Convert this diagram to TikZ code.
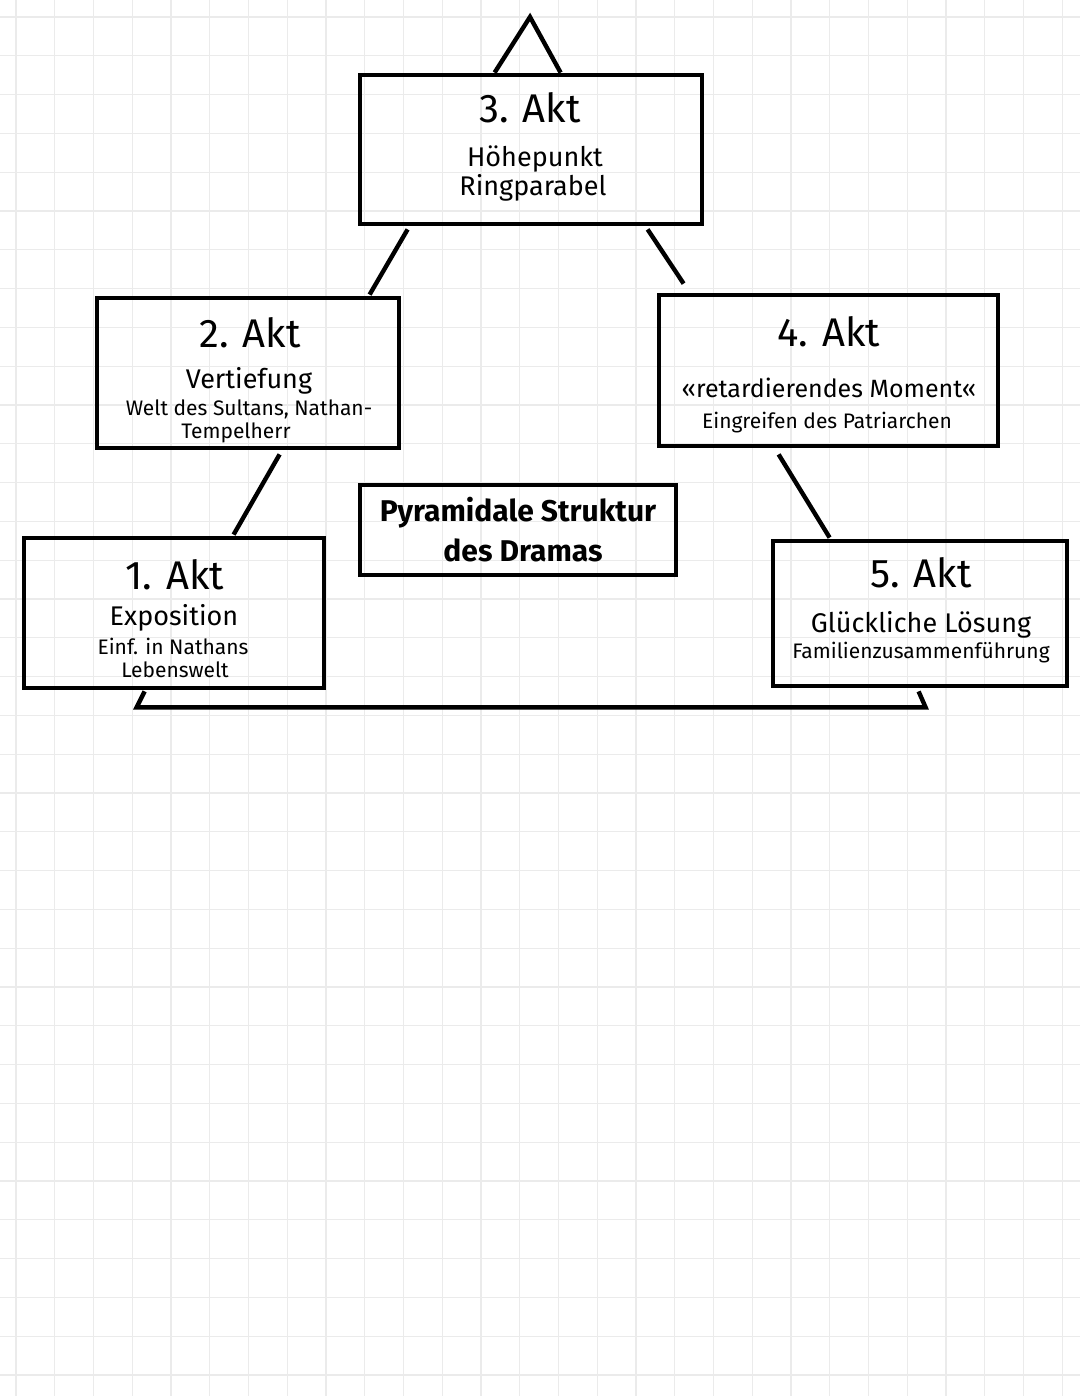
\documentclass[tikz,border=0pt]{standalone}
\usepackage{fontspec}
\setmainfont{Fira Sans}
\usetikzlibrary{calc}

\tikzset{
  gridline/.style={draw=gray!16,line width=0.6pt},
  aktbox/.style={draw,line width=2.4pt,inner sep=0pt},
  strich/.style={line width=2.2pt},
  akt/.style={font=\fontsize{20}{22}\selectfont},
  haupt/.style={font=\fontsize{13.5}{15}\selectfont},
  neben/.style={font=\fontsize{10.5}{12}\selectfont}
}

\begin{document}
\begin{tikzpicture}[x=0.5pt,y=-0.5pt]
  \useasboundingbox (0,0) rectangle (1080,1396);
  % Karopapier
  \foreach\k in {0,...,27}{
    \draw[gridline] (16+38.75*\k,0)--(16+38.75*\k,1396);};
  \foreach\k in {0,...,35}{
    \draw[gridline] (0,17+38.8*\k)--(1080,17+38.8*\k);};

  % Kaesten
  \node[aktbox,minimum width=171pt,minimum height=74.5pt] (akt3) at (531,149.5) {};
  \node[aktbox,minimum width=151pt,minimum height=75pt] (akt2) at (248,373) {};
  \node[aktbox,minimum width=169.5pt,minimum height=75.5pt] (akt4) at (828.5,370.5) {};
  \node[aktbox,minimum width=150pt,minimum height=75pt] (akt1) at (174,613) {};
  \node[aktbox,minimum width=147pt,minimum height=72.5pt] (akt5) at (920,613.5) {};
  \node[aktbox,minimum width=158pt,minimum height=45pt] (titel) at (518,530) {};

  % Texte
  \node[akt] at (530,108) {3. Akt};
  \node[haupt] at (535,159) {Höhepunkt};
  \node[haupt] at (533,188) {Ringparabel};
  \node[akt] at (250,333) {2. Akt};
  \node[haupt] at (249,381) {Vertiefung};
  \node[neben] at (249,409) {Welt des Sultans, Nathan-};
  \node[neben] at (236,433) {Tempelherr};
  \node[akt] at (829,332) {4. Akt};
  \node[font=\fontsize{12.5}{14}\selectfont] at (829,388) {«retardierendes Moment«};
  \node[neben] at (827,423) {Eingreifen des Patriarchen};
  \node[akt] at (175,575) {1. Akt};
  \node[haupt] at (174,618) {Exposition};
  \node[neben] at (173,646) {Einf. in Nathans};
  \node[neben] at (175,670) {Lebenswelt};
  \node[akt] at (921,573) {5. Akt};
  \node[haupt] at (921,625) {Glückliche Lösung};
  \node[neben] at (921,653) {Familienzusammenführung};
  \node[font=\fontsize{15}{17}\selectfont\bfseries] at (518,513) {Pyramidale Struktur};
  \node[font=\fontsize{15}{17}\selectfont\bfseries] at (523,550) {des Dramas};

  % Pyramide
  \draw[strich,line join=miter] ($(akt3.north west)+(137,0)$) -- (530,17)
    -- ($(akt3.north west)+(203,0)$);
  \draw[strich] ($(akt3.south west)+(50,3)$) -- ($(akt2.north west)+(275,-1)$);
  \draw[strich] ($(akt3.south west)+(290,3)$) -- ($(akt4.north west)+(27,-9)$);
  \draw[strich] ($(akt2.south west)+(185,4)$) -- ($(akt1.north west)+(212,-1)$);
  \draw[strich] ($(akt4.south west)+(122,6)$) -- ($(akt5.north west)+(59,-1)$);
  \draw[strich,line join=miter] ($(akt1.south west)+(123,1)$) -- ($(akt1.south west)+(115,17)$)
    -- ($(akt5.south west)+(155,19)$) -- ($(akt5.south west)+(148,3)$);
\end{tikzpicture}
\end{document}
